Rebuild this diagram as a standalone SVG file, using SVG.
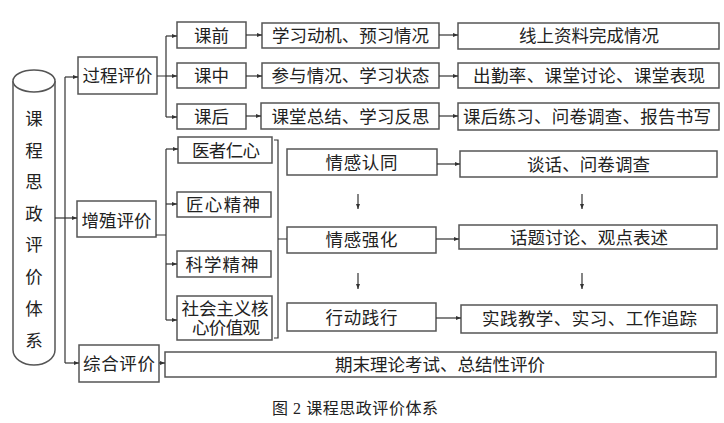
<svg xmlns="http://www.w3.org/2000/svg" width="724" height="423" viewBox="0 0 724 423">
<defs>
<marker id="ah" viewBox="0 0 10 10" refX="10" refY="5" markerWidth="5" markerHeight="5" markerUnits="userSpaceOnUse" orient="auto">
<path d="M0,1 L10,5 L0,9 z" fill="#333"/>
</marker>
<style>
.b{fill:#fff;stroke:#555;stroke-width:1.5}
.t{font-family:"Liberation Serif","Noto Sans CJK SC",serif;font-size:17.5px;fill:#222;text-anchor:middle}
.c{fill:none;stroke:#333;stroke-width:1.2}
.a{fill:none;stroke:#333;stroke-width:1.2;marker-end:url(#ah)}
</style>
</defs>
<rect width="724" height="423" fill="#fff"/>

<g id="root">
<path class="b" d="M13,81 L13,350 A21,15 0 0 0 55,350 L55,81"/>
<ellipse class="b" cx="34" cy="81" rx="21" ry="11"/>
<text class="t" x="34" y="125">课</text>
<text class="t" x="34" y="157">程</text>
<text class="t" x="34" y="188">思</text>
<text class="t" x="34" y="220">政</text>
<text class="t" x="34" y="251">评</text>
<text class="t" x="34" y="283">价</text>
<text class="t" x="34" y="315">体</text>
<text class="t" x="34" y="347">系</text>
</g>

<g id="n-guocheng"><rect class="b" x="78" y="57" width="79" height="37"/><text class="t" x="117.5" y="82" textLength="70">过程评价</text></g>
<g id="n-zengzhi"><rect class="b" x="77" y="201" width="79" height="36"/><text class="t" x="116.5" y="227" textLength="70">增殖评价</text></g>
<g id="n-zonghe"><rect class="b" x="79" y="345" width="80" height="37"/><text class="t" x="119" y="369.5" textLength="72">综合评价</text></g>

<g id="n-keqian"><rect class="b" x="177" y="22" width="69" height="26"/><text class="t" x="211.5" y="41.5">课前</text></g>
<g id="n-kezhong"><rect class="b" x="177" y="63" width="69" height="25"/><text class="t" x="211.5" y="82">课中</text></g>
<g id="n-kehou"><rect class="b" x="177" y="104" width="69" height="25"/><text class="t" x="211.5" y="123">课后</text></g>

<g id="n-m1"><rect class="b" x="262" y="23" width="177" height="25"/><text class="t" x="350.5" y="41.5" textLength="157">学习动机、预习情况</text></g>
<g id="n-m2"><rect class="b" x="262" y="63" width="177" height="25"/><text class="t" x="350.5" y="82" textLength="158">参与情况、学习状态</text></g>
<g id="n-m3"><rect class="b" x="261" y="103" width="178" height="26"/><text class="t" x="350.5" y="122.5" textLength="158">课堂总结、学习反思</text></g>

<g id="n-r1"><rect class="b" x="458" y="23" width="261" height="26"/><text class="t" x="589" y="42" textLength="140">线上资料完成情况</text></g>
<g id="n-r2"><rect class="b" x="458" y="63" width="261" height="25"/><text class="t" x="589" y="82" textLength="232">出勤率、课堂讨论、课堂表现</text></g>
<g id="n-r3"><rect class="b" x="458" y="103" width="261" height="27"/><text class="t" x="587" y="123" textLength="248">课后练习、问卷调查、报告书写</text></g>

<g id="n-yizhe"><rect class="b" x="178" y="137" width="94" height="26"/><text class="t" x="226" y="156.5" textLength="68">医者仁心</text></g>
<g id="n-jiangxin"><rect class="b" x="177" y="192" width="94" height="25"/><text class="t" x="223" y="211" textLength="74">匠心精神</text></g>
<g id="n-kexue"><rect class="b" x="177" y="251" width="94" height="26"/><text class="t" x="222" y="270.5" textLength="73">科学精神</text></g>
<g id="n-shehui"><rect class="b" x="177" y="296" width="95" height="44"/><text class="t" x="225" y="314.5" textLength="87">社会主义核</text><text class="t" x="226" y="333.5" textLength="68">心价值观</text></g>

<g id="n-qg1"><rect class="b" x="287" y="149" width="150" height="26"/><text class="t" x="361.5" y="168.5" textLength="72">情感认同</text></g>
<g id="n-qg2"><rect class="b" x="287" y="227" width="149" height="26"/><text class="t" x="361.5" y="246" textLength="72">情感强化</text></g>
<g id="n-qg3"><rect class="b" x="287" y="303" width="149" height="28"/><text class="t" x="361.5" y="323.5" textLength="72">行动践行</text></g>

<g id="n-f1"><rect class="b" x="460" y="151" width="257" height="26"/><text class="t" x="588.5" y="170.5" textLength="123">谈话、问卷调查</text></g>
<g id="n-f2"><rect class="b" x="459" y="225" width="258" height="24"/><text class="t" x="589" y="243.5" textLength="158">话题讨论、观点表述</text></g>
<g id="n-f3"><rect class="b" x="461" y="305" width="256" height="28"/><text class="t" x="589.5" y="325" textLength="215">实践教学、实习、工作追踪</text></g>

<g id="n-qimo"><rect class="b" x="165" y="352" width="551" height="25"/><text class="t" x="440" y="370.5" textLength="210">期末理论考试、总结性评价</text></g>

<g id="connectors">
<path class="c" d="M65,77 V363"/>
<path class="a" d="M65,77 H78"/>
<path class="a" d="M55,218 H77"/>
<path class="a" d="M65,363 H79"/>

<path class="c" d="M157,76 H166 M166,36 V117"/>
<path class="a" d="M166,36 H177"/>
<path class="a" d="M166,76 H177"/>
<path class="a" d="M166,117 H177"/>

<path class="a" d="M246,35 H262"/>
<path class="a" d="M246,76 H262"/>
<path class="a" d="M246,116 H261"/>
<path class="a" d="M439,35 H458"/>
<path class="a" d="M439,76 H458"/>
<path class="a" d="M439,116 H458"/>

<path class="c" d="M156,235 H166 M166,149 V320"/>
<path class="a" d="M166,149 H178"/>
<path class="a" d="M166,204 H177"/>
<path class="a" d="M166,264 H177"/>
<path class="a" d="M166,320 H177"/>

<path class="c" d="M274,140 H278 V338 H274 M278,239 H287"/>

<path class="a" d="M437,164 H460"/>
<path class="a" d="M436,239 H459"/>
<path class="a" d="M436,318 H461"/>

<path class="a" d="M358,194 V209"/>
<path class="a" d="M358,273 V289"/>
<path class="a" d="M582,194 V209"/>
<path class="a" d="M582,273 V289"/>

<path class="a" d="M159,363 H165"/>
</g>

<text class="t" x="355" y="414" style="font-size:16px" textLength="166">图 2 课程思政评价体系</text>
</svg>
